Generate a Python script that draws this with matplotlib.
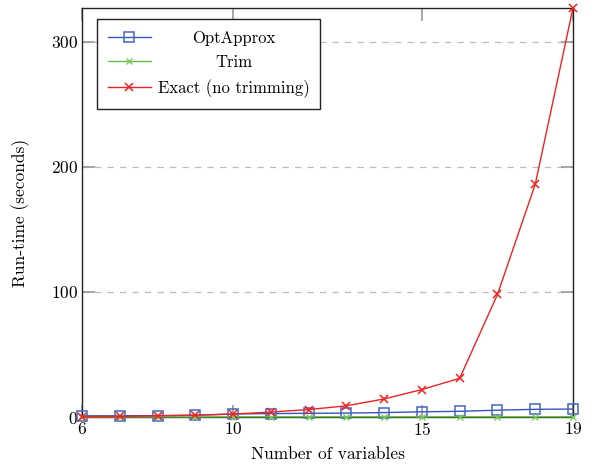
import matplotlib.pyplot as plt
import numpy as np

# number of variables
n_vars = [6, 7, 8, 9, 10, 11, 12, 13, 14, 15, 16, 17, 18, 19]

# run-time in seconds
opt_approx = [1.0, 1.0, 1.2, 1.5, 2.5, 2.8, 3.0, 3.2, 3.6, 4.2, 4.6, 5.5, 6.2, 6.4]
trim = [0.1, 0.1, 0.1, 0.1, 0.2, 0.2, 0.2, 0.2, 0.2, 0.2, 0.2, 0.2, 0.2, 0.2]
exact = [0.2, 0.5, 1.0, 1.5, 2.4, 4.0, 6.0, 9.0, 14.5, 22.0, 31.0, 98.0, 186.0, 327.0]

x_ticks = [6, 10, 15, 19]
y_ticks = [0, 100, 200, 300]

plt.rcParams['font.family'] = 'cmr10'
plt.rcParams['axes.formatter.use_mathtext'] = True
plt.rcParams['mathtext.fontset'] = 'cm'

fig = plt.figure(figsize=(5.95, 4.66), dpi=100)
ax = fig.add_axes([0.138, 0.105, 0.825, 0.878])

blue = '#3355bb'
green = '#66bb44'
red = '#ee2222'

ax.plot(n_vars, opt_approx, color=blue, linewidth=1.0, marker='s', markersize=7.5,
        markerfacecolor='none', markeredgecolor='#4466c4', markeredgewidth=1.1,
        label='OptApprox', clip_on=False, zorder=3)
ax.plot(n_vars, trim, color=green, linewidth=1.0, marker='x', markersize=5,
        markeredgecolor='#77cc55', markeredgewidth=1.0, label='Trim', clip_on=False, zorder=3)
ax.plot(n_vars, exact, color=red, linewidth=1.0, marker='x', markersize=5.5,
        markeredgewidth=1.1, label='Exact (no trimming)', clip_on=False, zorder=4)

ax.set_xlim(6, 19)
ax.set_ylim(0, 327)
ax.set_xticks(x_ticks)
ax.set_yticks(y_ticks)

ax.yaxis.grid(True, linestyle=(0, (5, 5)), color='#bbbbbb', linewidth=0.9)
ax.set_axisbelow(True)
ax.tick_params(direction='in', length=9, width=1.2, color='#999999',
               top=True, right=True, labelsize=12.5, pad=3)

for s in ax.spines.values():
    s.set_linewidth(1.0)
    s.set_color('#222222')

ax.set_xlabel('Number of variables', fontsize=12.5, labelpad=6)
ax.set_ylabel('Run-time (seconds)', fontsize=12.5, labelpad=15)

leg = ax.legend(loc='upper left', bbox_to_anchor=(0.03, 0.972), fontsize=12,
                frameon=True, fancybox=False, edgecolor='#222222', framealpha=1,
                handlelength=2.6, borderpad=0.65, labelspacing=0.55, handletextpad=0.4,
                borderaxespad=0)
leg.get_frame().set_linewidth(1.0)

# centre the legend entries like pgfplots does
fig.canvas.draw()
renderer = fig.canvas.get_renderer()
widths = [t.get_window_extent(renderer).width for t in leg.get_texts()]
w_max = max(widths)
for t, w in zip(leg.get_texts(), widths):
    t.set_x((w_max - w) / 2)

fig.savefig('out.png', dpi=100)
